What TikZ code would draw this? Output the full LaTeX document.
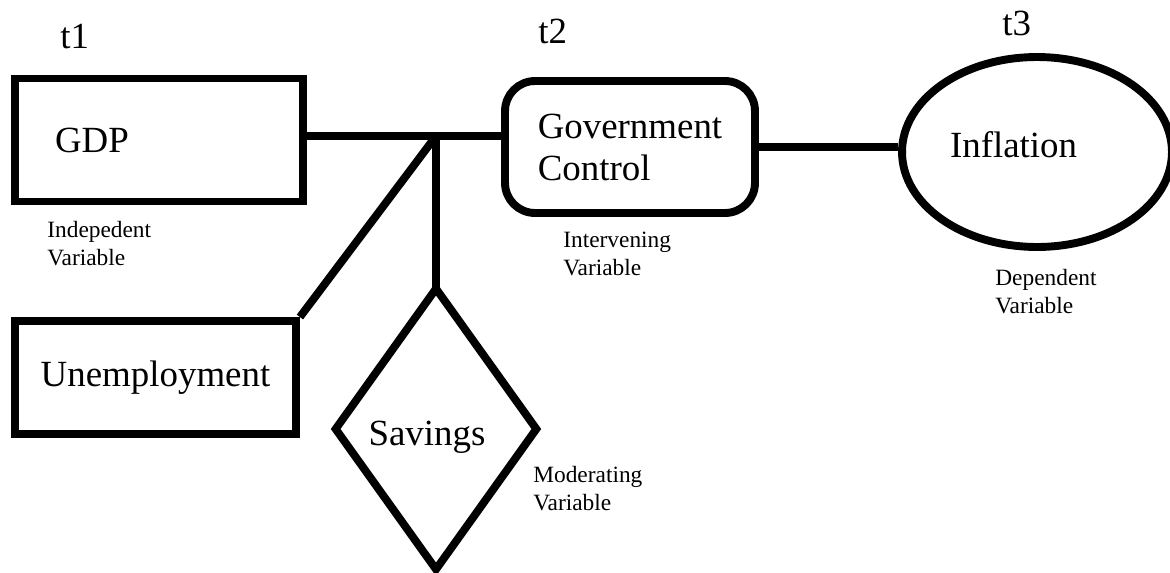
\documentclass[tikz,border=0pt]{standalone}
\usepackage{fontspec}
\setmainfont{Liberation Serif}
\usetikzlibrary{shapes.geometric}

\tikzset{
  var/.style={draw, line width=4.5pt, font=\fontsize{21}{23.9}\selectfont},
  note/.style={anchor=north west, inner sep=0pt, align=left, font=\fontsize{13.3}{15.9}\selectfont},
  tlabel/.style={anchor=base west, inner sep=0pt, font=\fontsize{21}{23.9}\selectfont},
  link/.style={line width=4.5pt}
}

\begin{document}
\begin{tikzpicture}[x=0.02cm, y=-0.02cm]
\useasboundingbox (0,0) rectangle (1170,572);

% variables
\node[var, rectangle, minimum width=5.76cm, minimum height=2.46cm, text width=4.16cm, inner xsep=0.8cm, align=left] (gdp) at (159,140) {GDP};
\node[var, rectangle, minimum width=5.62cm, minimum height=2.26cm] (unemp) at (155.5,377.5) {Unemployment};
\node[var, rectangle, rounded corners=0.6cm, minimum width=5cm, minimum height=2.64cm, align=left] (gov) at (630,147) {Government\\Control};
\node[var, ellipse, minimum width=5.4cm, minimum height=3.8cm, text width=3.48cm, text depth=0.3cm, align=left, inner sep=0pt] (infl) at (1037,152) {Inflation};
\node[var, diamond, minimum width=4.08cm, minimum height=5.68cm, text height=0.8cm, inner sep=0pt] (sav) at (436,429) {\hspace*{-0.36cm}Savings};

% links
\coordinate (j) at (436,136);
\draw[link] (gdp.east |- j) -- (gov.west |- j);
\draw[link] (j) -- ([yshift=-6pt]sav.north);
\draw[link] (j) -- (unemp.north east);
\draw[link] (gov.east) -- (gov.east -| infl.west);

% time points
\node[tlabel] (t1) at (60,48) {t1};
\node[tlabel] (t2) at (538,43) {t2};
\node[tlabel] (t3) at (1002,35) {t3};

% variable types
\node[note] (indep) at (47,221) {Indepedent\\Variable};
\node[note] (interv) at (563,232) {Intervening\\Variable};
\node[note] (dep) at (995,269) {Dependent\\Variable};
\node[note] (moder) at (533,466) {Moderating\\Variable};
\end{tikzpicture}
\end{document}
